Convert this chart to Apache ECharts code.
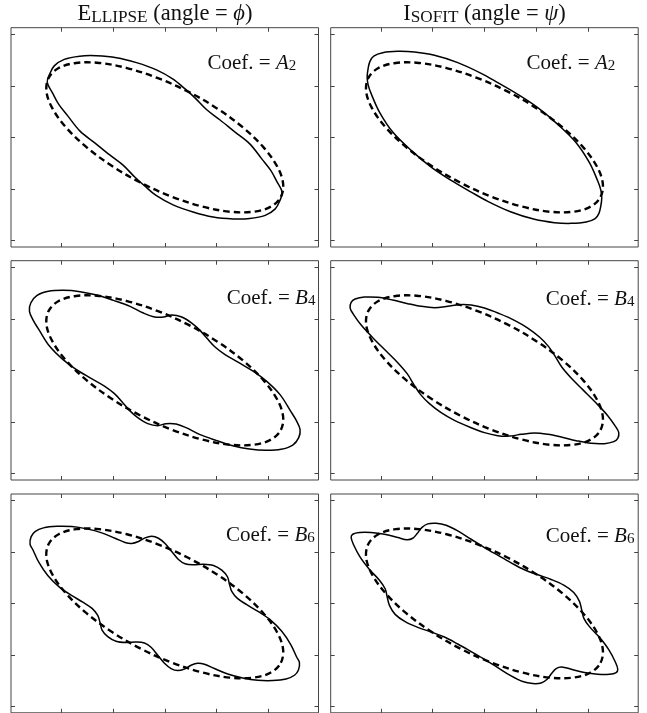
<!DOCTYPE html>
<html>
<head>
<meta charset="utf-8">
<script src="https://cdn.jsdelivr.net/npm/echarts@6/dist/echarts.min.js"></script>
<style>html,body{margin:0;padding:0;background:#fff}#c{width:647px;height:713px}</style>
</head>
<body>
<div id="c"></div>
<script>
// ---- data (units: equal on both axes, origin at panel centre) ----
const xTicks = [-103.6, -51.8, 0, 51.8, 103.6];
const yTicks = [-103.2, -51.6, 0, 51.6, 103.2];
const xRange = [-153.75, 153.75];
const yRange = [-109.65, 109.65];

const columnTitles = [
  {first: 'E', caps: 'LLIPSE', rest: ' (angle = ', sym: '\u03D5'},
  {first: 'I', caps: 'SOFIT', rest: ' (angle = ', sym: '\u03C8'}
];
const coefNames = ['A', 'B', 'B'];
const coefSubs = ['2', '4', '6'];

// fitted ellipse (dashed), same in every panel
const fittedEllipse = [[116.1,-59.5],[118.3,-45.7],[112.2,-28.7],[98.6,-9.8],[78.3,9.8],[52.7,28.7],[23.4,45.7],[-7.5,59.5],[-37.8,69.3],[-65.6,74.4],[-88.8,74.4],[-106.1,69.3],[-116.1,59.5],[-118.3,45.7],[-112.2,28.7],[-98.6,9.8],[-78.3,-9.8],[-52.7,-28.7],[-23.4,-45.7],[7.5,-59.5],[37.8,-69.3],[65.6,-74.4],[88.8,-74.4],[106.1,-69.3]];

const ellipseA2 = [[-117.5,55],[-115,63.5],[-110.5,71.5],[-100.5,78],[-85,81.2],[-68.3,81.6],[-48.3,79.7],[-28.3,74.7],[-8.3,67.5],[8.3,58.3],[20,48.7],[30,39.7],[41.7,27.8],[55,17.6],[70,5.5],[85,-6.5],[97,-21.5],[106,-33],[112,-44],
[117.5,-55],[115,-63.5],[110.5,-71.5],[100.5,-78],[85,-81.2],[68.3,-81.6],[48.3,-79.7],[28.3,-74.7],[8.3,-67.5],[-8.3,-58.3],[-20,-48.7],[-30,-39.7],[-41.7,-27.8],[-55,-17.6],[-70,-5.5],[-85,6.5],[-97,21.5],[-106,33],[-112,44]];

const isofitA2 = [[-117.3,60.7],[-116.3,69],[-114.5,76],[-110.7,81.3],[-101.7,84.7],[-86.7,86],[-70,85.3],[-50,82],[-26.7,74.7],[-3.3,64],[13.3,54.7],[33.3,43],[53.3,29.7],[73.3,13],[91.7,-5.3],[105,-25.3],[113.3,-43.7],[116.3,-52.5],
[117.3,-60.7],[116.3,-69],[114.5,-76],[110.7,-81.3],[101.7,-84.7],[86.7,-86],[70,-85.3],[50,-82],[26.7,-74.7],[3.3,-64],[-13.3,-54.7],[-33.3,-43],[-53.3,-29.7],[-73.3,-13],[-91.7,5.3],[-105,25.3],[-113.3,43.7],[-116.3,52.5]];

const ellipseB4 = [[-135.3,59],[-134,67.3],[-128,74.7],[-116.3,79],[-101.3,80],[-84.7,78.7],[-68,75.3],[-51.3,70],[-34.7,64],[-21.3,57.3],[-11.3,53.7],[-1.3,53.3],[7,55.3],[17,53.3],[27,47.3],[35.3,40],[42,32.3],[50.3,23.3],[60.3,15.7],[73.7,8],[88.7,-1],[102,-11],[115.3,-24.3],[126,-41],[131.5,-50],
[135.3,-59],[134,-67.3],[128,-74.7],[116.3,-79],[101.3,-80],[84.7,-78.7],[68,-75.3],[51.3,-70],[34.7,-64],[21.3,-57.3],[11.3,-53.7],[1.3,-53.3],[-7,-55.3],[-17,-53.3],[-27,-47.3],[-35.3,-40],[-42,-32.3],[-50.3,-23.3],[-60.3,-15.7],[-73.7,-8],[-88.7,1],[-102,11],[-115.3,24.3],[-126,41],[-131.5,50]];

const isofitB4 = [[-134.3,62.3],[-133.3,68],[-129.3,71.3],[-120,73.3],[-106.7,73],[-91.7,70.3],[-76.7,66.7],[-63.3,64],[-50,62.7],[-36.7,64],[-25,65.7],[-13.3,65.3],[0,62.3],[15,56.7],[30,50],[43.3,42.3],[55,33.3],[64,24],[70.7,14],[77.3,3.3],[86.7,-7.7],[98.3,-19.3],[111.7,-32.7],[123.3,-45.3],[131,-56],
[134.3,-62.3],[133.3,-68],[129.3,-71.3],[120,-73.3],[106.7,-73],[91.7,-70.3],[76.7,-66.7],[63.3,-64],[50,-62.7],[36.7,-64],[25,-65.7],[13.3,-65.3],[0,-62.3],[-15,-56.7],[-30,-50],[-43.3,-42.3],[-55,-33.3],[-64,-24],[-70.7,-14],[-77.3,-3.3],[-86.7,7.7],[-98.3,19.3],[-111.7,32.7],[-123.3,45.3],[-131,56]];

const ellipseB6 = [[-134.7,59.3],[-133.7,66.7],[-129.7,72],[-121.3,75.7],[-108,77.3],[-93,77],[-78,74.7],[-63,70.7],[-49.7,65.3],[-39.7,61],[-33,60],[-26.3,62],[-19.7,65.7],[-13,67.3],[-6.3,65.3],[0.3,60],[7,52],[13.7,44],[20.3,39.7],[28.7,38.7],[38.7,39.3],[48.7,38],[57,33.3],[62.7,26.7],[64.7,19.3],[67,12],[72.7,5],[82,-1.3],[93.7,-8.3],[105.3,-16.3],[117,-28],[126,-41.3],[132,-54],
[134.7,-59.3],[133.7,-66.7],[129.7,-72],[121.3,-75.7],[108,-77.3],[93,-77],[78,-74.7],[63,-70.7],[49.7,-65.3],[39.7,-61],[33,-60],[26.3,-62],[19.7,-65.7],[13,-67.3],[6.3,-65.3],[-0.3,-60],[-7,-52],[-13.7,-44],[-20.3,-39.7],[-28.7,-38.7],[-38.7,-39.3],[-48.7,-38],[-57,-33.3],[-62.7,-26.7],[-64.7,-19.3],[-67,-12],[-72.7,-5],[-82,1.3],[-93.7,8.3],[-105.3,16.3],[-117,28],[-126,41.3],[-132,54]];

const isofitB6 = [[-133.3,66],[-131.7,69.3],[-125,71],[-113.3,71],[-100,69.3],[-86.7,66],[-77.3,63.7],[-71.7,65.3],[-67.3,70],[-62.7,76],[-56.7,79.7],[-48.3,80.3],[-38.3,78.3],[-26.7,72.7],[-13.3,64.3],[0,56],[13.3,48.3],[26.7,40.7],[40,33.7],[53.3,28.7],[66.7,24],[79.3,18.3],[89.3,11],[95,2],[97.3,-6.7],[99.3,-14.7],[105,-23.3],[115,-34],[124.3,-46.3],[131,-59],
[133.3,-66],[131.7,-69.3],[125,-71],[113.3,-71],[100,-69.3],[86.7,-66],[77.3,-63.7],[71.7,-65.3],[67.3,-70],[62.7,-76],[56.7,-79.7],[48.3,-80.3],[38.3,-78.3],[26.7,-72.7],[13.3,-64.3],[0,-56],[-13.3,-48.3],[-26.7,-40.7],[-40,-33.7],[-53.3,-28.7],[-66.7,-24],[-79.3,-18.3],[-89.3,-11],[-95,-2],[-97.3,6.7],[-99.3,14.7],[-105,23.3],[-115,34],[-124.3,46.3],[-131,59]];

// panels: [row][col]
const panelCurves = [[ellipseA2, isofitA2], [ellipseB4, isofitB4], [ellipseB6, isofitB6]];

// ---- layout ----
const colLeft = [11, 330.7];
const rowTop = [27.7, 260.7, 494];
const gridW = 307.5, gridH = [219.3, 219.3, 218.8];
const coefPos = [[[207.5, 73.5], [526.5, 73.5]], [[226.7, 309], [545.7, 309.5]], [[226, 546], [545.7, 546.8]]];
const titlePos = [[165, 26], [484.5, 26]];

const FONT = '"Liberation Serif", "DejaVu Serif", serif';
const INK = '#111';
const FRAME = '#444';

const grids = [], xAxes = [], yAxes = [], series = [];
function tickCfg(vals) {
  return {show: true, inside: true, length: 4, customValues: vals, lineStyle: {color: FRAME, width: 1}};
}
function curve(gi, pts, dashed) {
  return {
    type: 'custom', coordinateSystem: 'cartesian2d',
    xAxisIndex: gi * 2, yAxisIndex: gi * 2,
    data: pts, silent: true, animation: false, clip: false,
    renderItem: function (params, api) {
      if (params.dataIndex !== 0) return null;
      return {
        type: 'polygon',
        shape: {points: pts.map(p => api.coord(p)), smooth: 0.35},
        style: {fill: 'none', stroke: '#000', lineWidth: dashed ? 2.4 : 1.5, lineDash: dashed ? [6.5, 4] : null, lineCap: 'butt'}
      };
    }
  };
}
let gi = 0;
for (let r = 0; r < 3; r++) {
  for (let c = 0; c < 2; c++) {
    grids.push({left: colLeft[c], top: rowTop[r], width: gridW, height: gridH[r], show: true,
      borderColor: FRAME, borderWidth: 1, backgroundColor: 'transparent', containLabel: false});
    ['bottom', 'top'].forEach(pos => xAxes.push({type: 'value', gridIndex: gi, position: pos, min: xRange[0], max: xRange[1],
      axisLine: {show: false, onZero: false}, axisLabel: {show: false}, splitLine: {show: false}, axisTick: tickCfg(xTicks)}));
    ['left', 'right'].forEach(pos => yAxes.push({type: 'value', gridIndex: gi, position: pos, min: yRange[0], max: yRange[1],
      axisLine: {show: false, onZero: false}, axisLabel: {show: false}, splitLine: {show: false}, axisTick: tickCfg(yTicks)}));
    series.push(curve(gi, fittedEllipse, true));
    series.push(curve(gi, panelCurves[r][c], false));
    gi++;
  }
}

const FS = 21, TFS = 22.5;
function tok(size, extra) {
  return Object.assign({fontFamily: FONT, fontSize: size, lineHeight: size * 0.64, verticalAlign: 'bottom', fill: INK, color: INK}, extra || {});
}
const richCoef = {
  n: tok(FS),
  i: tok(FS, {fontStyle: 'italic'}),
  u: Object.assign(tok(15), {lineHeight: 0.8})
};
const richTitle = {
  n: tok(TFS),
  c: tok(TFS),
  s: tok(17.2),
  i: tok(TFS, {fontStyle: 'italic'})
};
const graphic = [];
columnTitles.forEach((t, c) => {
  graphic.push({type: 'text', x: titlePos[c][0], y: titlePos[c][1], silent: true,
    style: {text: '{c|' + t.first + '}{s|' + t.caps + '}{n|' + t.rest + '}{i|' + t.sym + '}{n|)}',
      rich: richTitle, align: 'center', verticalAlign: 'bottom', fill: INK, fontFamily: FONT, fontSize: TFS}});
});
for (let r = 0; r < 3; r++) {
  for (let c = 0; c < 2; c++) {
    graphic.push({type: 'text', x: coefPos[r][c][0], y: coefPos[r][c][1], silent: true,
      style: {text: '{n|Coef. = }{i|' + coefNames[r] + '}{u|' + coefSubs[r] + '}',
        rich: richCoef, align: 'left', verticalAlign: 'bottom', fill: INK, fontFamily: FONT, fontSize: FS}});
  }
}

const chart = echarts.init(document.getElementById('c'), null, {renderer: 'canvas'});
chart.setOption({
  animation: false,
  backgroundColor: '#fff',
  grid: grids, xAxis: xAxes, yAxis: yAxes, series: series,
  graphic: graphic
});
</script>
</body>
</html>
